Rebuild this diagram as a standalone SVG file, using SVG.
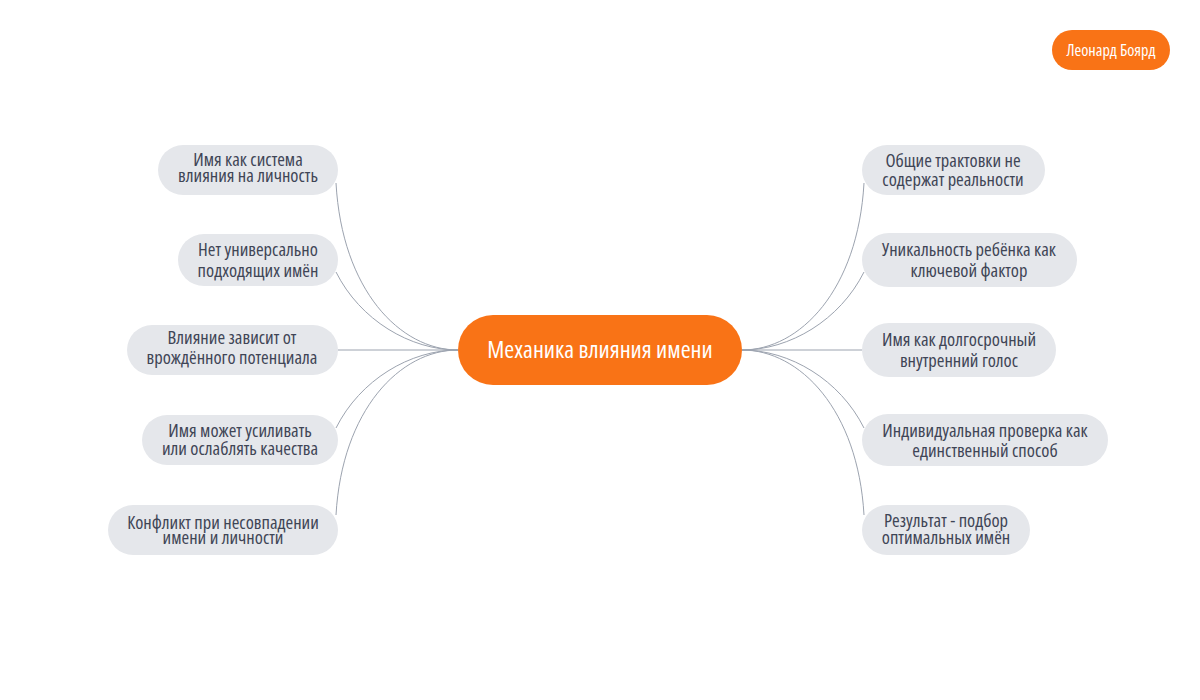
<svg xmlns="http://www.w3.org/2000/svg" width="1200" height="700" viewBox="0 0 1200 700">
<style>
text{font-family:"Open Sans","Liberation Sans Narrow","Liberation Sans",sans-serif;font-stretch:75%;font-weight:400;}
.n rect{fill:#E5E7EB;}
.n text{fill:#3F4556;font-size:18.5px;text-anchor:middle;}
.o rect{fill:#F97316;}
.o text{fill:#FFFFFF;text-anchor:middle;}
.c path{fill:none;stroke:#9CA3AF;stroke-width:1;}
</style>
<rect width="1200" height="700" fill="#FFFFFF"/>
<g class="c" id="connectors">
<path d="M336,183 C342,290 400,350 458,350"/>
<path d="M336,272 C360,320 410,350 458,350"/>
<path d="M338,350 L458,350"/>
<path d="M336,428 C360,380 410,350 458,350"/>
<path d="M336,515 C342,410 400,350 458,350"/>
<path d="M864,183 C858,290 800,350 742,350"/>
<path d="M864,272 C840,320 790,350 742,350"/>
<path d="M862,350 L742,350"/>
<path d="M864,428 C840,380 790,350 742,350"/>
<path d="M864,515 C858,410 800,350 742,350"/>
</g>
<g class="o" id="center"><rect x="458" y="315" width="284" height="70" rx="35"/><text x="600" y="358" font-size="24">Механика влияния имени</text></g>
<g class="o" id="author"><rect x="1052" y="30" width="118" height="40" rx="20"/><text x="1111" y="56" font-size="16.3">Леонард Боярд</text></g>
<g class="n" id="l1"><rect x="158" y="145" width="180" height="50" rx="25"/><text x="248" y="166">Имя как система</text><text x="248" y="182">влияния на личность</text></g>
<g class="n" id="l2"><rect x="178" y="234" width="160" height="52" rx="26"/><text x="258" y="256">Нет универсально</text><text x="258" y="277">подходящих имён</text></g>
<g class="n" id="l3"><rect x="127" y="325" width="211" height="50" rx="25"/><text x="232" y="344">Влияние зависит от</text><text x="232" y="364">врождённого потенциала</text></g>
<g class="n" id="l4"><rect x="142" y="415" width="196" height="50" rx="25"/><text x="240" y="437">Имя может усиливать</text><text x="240" y="455">или ослаблять качества</text></g>
<g class="n" id="l5"><rect x="108" y="505" width="230" height="50" rx="25"/><text x="223" y="529">Конфликт при несовпадении</text><text x="223" y="544">имени и личности</text></g>
<g class="n" id="r1"><rect x="862" y="145" width="183" height="50" rx="25"/><text x="953" y="167">Общие трактовки не</text><text x="953" y="186">содержат реальности</text></g>
<g class="n" id="r2"><rect x="862" y="233" width="215" height="54" rx="27"/><text x="969" y="256">Уникальность ребёнка как</text><text x="969" y="277">ключевой фактор</text></g>
<g class="n" id="r3"><rect x="862" y="323" width="194" height="54" rx="27"/><text x="959" y="346">Имя как долгосрочный</text><text x="959" y="367">внутренний голос</text></g>
<g class="n" id="r4"><rect x="862" y="414" width="246" height="52" rx="26"/><text x="985" y="437">Индивидуальная проверка как</text><text x="985" y="457">единственный способ</text></g>
<g class="n" id="r5"><rect x="862" y="505" width="168" height="50" rx="25"/><text x="946" y="527">Результат - подбор</text><text x="946" y="544">оптимальных имён</text></g>
</svg>
